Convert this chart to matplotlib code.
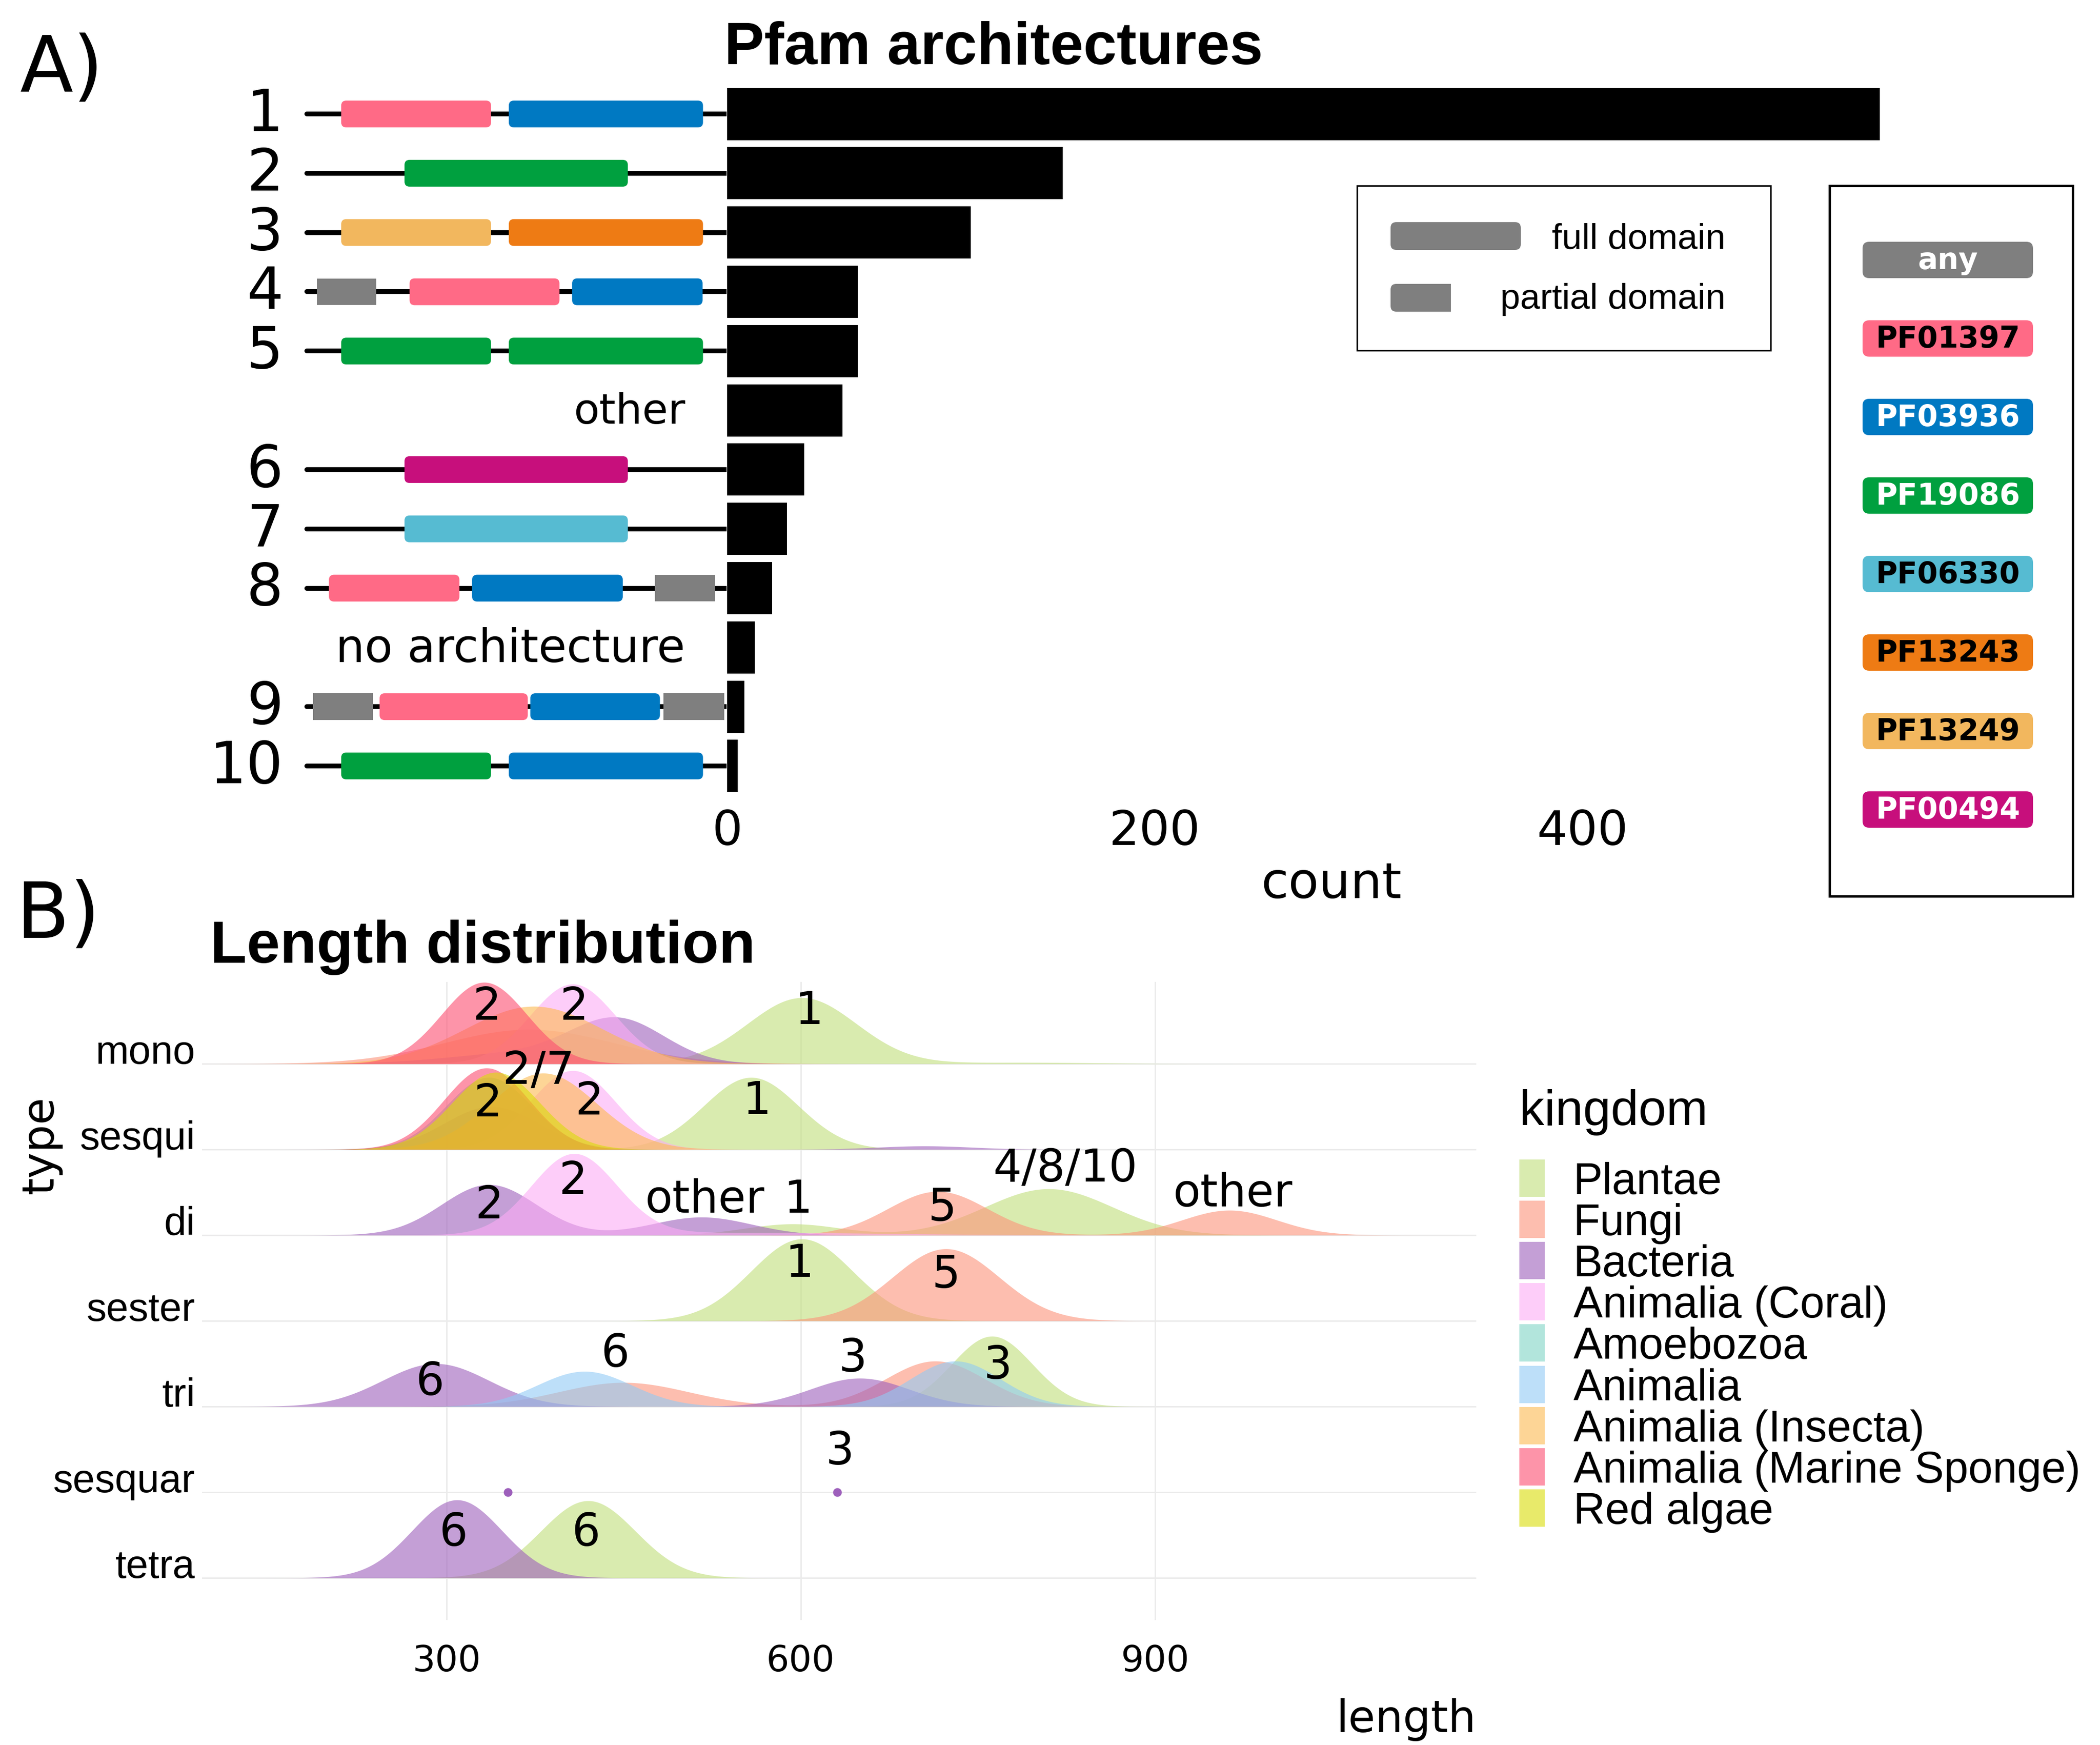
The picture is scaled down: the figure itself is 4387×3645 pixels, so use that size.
import numpy as np
import matplotlib
matplotlib.use("Agg")
import matplotlib.pyplot as plt
from matplotlib.patches import FancyBboxPatch, Rectangle

W, H = 4387, 3645
DPI = 300
SANS = "Liberation Sans"

# ---------------- panel A data ----------------
arch_labels = ["1", "2", "3", "4", "5", "other", "6", "7", "8", "no architecture", "9", "10"]
arch_counts = [539, 157, 114, 61, 61, 54, 36, 28, 21, 13, 8, 5]

pfam_ids = ["any", "PF01397", "PF03936", "PF19086", "PF06330", "PF13243", "PF13249", "PF00494"]
pfam_colors = ["#7F7F7F", "#FF6A86", "#0079C2", "#00A03F", "#56BBD2", "#EE7B14", "#F2B75E", "#C70F7C"]
pfam_text = ["white", "black", "white", "white", "black", "black", "black", "white"]

# domains drawn on the protein track (track units 0-100)
dom_arch = ["1", "1", "2", "3", "3", "4", "4", "4", "5", "5", "6", "7",
            "8", "8", "8", "9", "9", "9", "9", "10", "10"]
dom_pfam = ["PF01397", "PF03936", "PF19086", "PF13249", "PF13243", "any", "PF01397", "PF03936",
            "PF19086", "PF19086", "PF00494", "PF06330", "PF01397", "PF03936", "any",
            "any", "PF01397", "PF03936", "any", "PF19086", "PF03936"]
dom_start = [8.7, 48.4, 23.7, 8.7, 48.4, 2.9, 24.9, 63.4, 8.7, 48.4, 23.7, 23.7,
             5.8, 39.7, 83.0, 2.0, 17.8, 53.5, 85.0, 8.7, 48.4]
dom_end = [44.2, 94.4, 76.6, 44.2, 94.4, 17.0, 60.4, 94.3, 44.2, 94.4, 76.6, 76.6,
           36.7, 75.4, 97.3, 16.2, 52.9, 84.2, 99.4, 44.2, 94.4]
dom_partial = [False, False, False, False, False, True, False, False, False, False, False, False,
               False, False, True, True, False, False, True, False, False]

# ---------------- panel B data ----------------
type_order = ["mono", "sesqui", "di", "sester", "tri", "sesquar", "tetra"]
kingdoms = ["Plantae", "Fungi", "Bacteria", "Animalia (Coral)", "Amoebozoa", "Animalia",
            "Animalia (Insecta)", "Animalia (Marine Sponge)", "Red algae"]
kingdom_colors = ["#C0DE7A", "#FD947B", "#9D5FBB", "#FCACF5", "#80D4C6", "#91CBF5",
                  "#FDB950", "#FD4D70", "#DADC07"]

# density bumps: peak length, spread, peak height (in rows)
ridge_type = ["mono", "mono", "mono", "mono", "mono", "mono", "mono", "mono",
              "sesqui", "sesqui", "sesqui", "sesqui", "sesqui", "sesqui", "sesqui", "sesqui",
              "di", "di", "di", "di", "di", "di", "di", "di",
              "sester", "sester",
              "tri", "tri", "tri", "tri", "tri", "tri", "tri",
              "tetra", "tetra"]
ridge_kingdom = ["Plantae", "Plantae", "Fungi", "Bacteria", "Bacteria", "Animalia (Coral)",
                 "Animalia (Insecta)", "Animalia (Marine Sponge)",
                 "Plantae", "Bacteria", "Bacteria", "Animalia (Coral)", "Amoebozoa",
                 "Animalia (Insecta)", "Animalia (Marine Sponge)", "Red algae",
                 "Plantae", "Plantae", "Fungi", "Fungi", "Bacteria", "Bacteria",
                 "Animalia (Coral)", "Animalia (Coral)",
                 "Plantae", "Fungi",
                 "Plantae", "Fungi", "Fungi", "Bacteria", "Bacteria", "Animalia", "Animalia",
                 "Bacteria", "Plantae"]
ridge_mu = [601, 790, 370, 445, 360, 407, 374, 332,
            558, 338, 705, 407, 336, 382, 334, 342,
            593, 810, 716, 963, 336, 516, 408, 560,
            601, 723,
            762, 450, 714, 291, 650, 417, 731,
            309, 420]
ridge_sd = [46, 60, 72, 40, 60, 36, 58, 36,
            40, 40, 40, 36, 36, 45, 36, 37,
            40, 54, 42, 40, 40, 42, 36, 110,
            43, 45,
            34, 55, 42, 45, 42, 40, 38,
            38, 40]
ridge_h = [0.77, 0.015, 0.40, 0.50, 0.12, 0.93, 0.67, 0.95,
           0.84, 0.50, 0.04, 0.92, 0.84, 0.89, 0.95, 0.90,
           0.13, 0.54, 0.51, 0.29, 0.59, 0.21, 0.94, 0.03,
           0.955, 0.84,
           0.82, 0.28, 0.53, 0.50, 0.33, 0.41, 0.53,
           0.91, 0.90]

sesquar_points = [352, 631]

lab_type = ["mono", "mono", "mono", "sesqui", "sesqui", "sesqui", "sesqui",
            "di", "di", "di", "di", "di", "di", "di", "sester", "sester",
            "tri", "tri", "tri", "tri", "sesquar", "tetra", "tetra"]
lab_text = ["2", "2", "1", "2/7", "2", "2", "1",
            "2", "2", "other", "1", "5", "4/8/10", "other", "1", "5",
            "6", "6", "3", "3", "3", "6", "6"]
lab_x = [334, 408, 607, 378, 335, 421, 563,
         336, 407, 519, 598, 720, 824, 966, 599, 723,
         286, 443, 644, 767, 633, 306, 418]
lab_h = [0.66, 0.66, 0.61, 0.91, 0.53, 0.55, 0.56,
         0.34, 0.625, 0.41, 0.41, 0.31, 0.77, 0.48, 0.66, 0.53,
         0.28, 0.61, 0.55, 0.47, 0.47, 0.52, 0.52]


def box(x0, y0, x1, y1):
    return [x0 / W, 1 - y1 / H, (x1 - x0) / W, (y1 - y0) / H]


fig = plt.figure(figsize=(W / DPI, H / DPI), dpi=DPI)

# ---------------- A) architectures ----------------
n = len(arch_labels)
rows = np.arange(n)
ylim_a = (11.55, -0.55)

ax_tr = fig.add_axes(box(636, 170, 1518, 1668))
ax_tr.set_xlim(0, 100)
ax_tr.set_ylim(*ylim_a)
ax_tr.axis("off")
mut = (1 / 123.8) / (100 / 882)
for i, lab in enumerate(arch_labels):
    idx = [j for j in range(len(dom_arch)) if dom_arch[j] == lab]
    if not idx:
        ax_tr.text(90.2, i + 0.03, lab, ha="right", va="center", fontsize=21 if lab == "other" else 23)
        continue
    ax_tr.text(-5.0, i + 0.02, lab, ha="right", va="center", fontsize=29, clip_on=False)
    ax_tr.plot([0.6, 100], [i, i], color="black", lw=2.4, solid_capstyle="round", zorder=1)
    for j in idx:
        col = pfam_colors[pfam_ids.index(dom_pfam[j])]
        s, e = dom_start[j], dom_end[j]
        if dom_partial[j]:
            ax_tr.add_patch(Rectangle((s, i - 0.226), e - s, 0.452, fc=col, ec="none", zorder=2))
        else:
            ax_tr.add_patch(FancyBboxPatch((s, i - 0.226), e - s, 0.452,
                                           boxstyle="round,pad=0,rounding_size=1.2",
                                           mutation_aspect=mut, fc=col, ec="none", zorder=2))

ax_bar = fig.add_axes(box(1519, 170, 4043, 1668))
ax_bar.barh(rows, arch_counts, height=0.88, color="black")
ax_bar.set_xlim(0, 565)
ax_bar.set_ylim(*ylim_a)
ax_bar.set_xticks([0, 200, 400])
ax_bar.set_yticks([])
ax_bar.tick_params(axis="x", length=0, labelsize=24, pad=5)
for sp in ax_bar.spines.values():
    sp.set_visible(False)
ax_bar.patch.set_alpha(0)

fig.text(42 / W, 1 - 190 / H, "A)", fontsize=39, va="baseline", ha="left")
fig.text(1513 / W, 1 - 134 / H, "Pfam architectures", fontsize=30, fontweight="bold",
         family=SANS, va="baseline", ha="left")
fig.text(2781 / W, 1 - 1876 / H, "count", fontsize=25, va="baseline", ha="center")

# ---------------- B) length distribution ----------------
ax_r = fig.add_axes(box(422, 2051, 3084, 3384))
ax_r.set_xlim(93, 1172)
ax_r.set_ylim(0.508, 7.955)
ax_r.set_xticks([300, 600, 900])
ax_r.set_yticks(np.arange(len(type_order), 0, -1))
ax_r.set_yticklabels(type_order, family=SANS, fontsize=20, va="baseline")
ax_r.tick_params(axis="y", length=0, pad=3.4)
ax_r.tick_params(axis="x", length=0, labelsize=18, pad=12)
ax_r.grid(True, color="#EBEBEB", lw=0.7)
ax_r.set_axisbelow(True)
for sp in ax_r.spines.values():
    sp.set_visible(False)

xs = np.linspace(93, 1172, 900)
for t_i, t in enumerate(type_order):
    y0 = len(type_order) - t_i
    for k_i, k in enumerate(kingdoms):
        idx = [j for j in range(len(ridge_type)) if ridge_type[j] == t and ridge_kingdom[j] == k]
        if not idx:
            continue
        dens = np.zeros_like(xs)
        for j in idx:
            dens += ridge_h[j] * np.exp(-0.5 * ((xs - ridge_mu[j]) / ridge_sd[j]) ** 2)
        ax_r.fill_between(xs, y0, y0 + dens, color=kingdom_colors[k_i], alpha=0.6, lw=0,
                          zorder=2 + t_i * 0.1)

y_sesquar = len(type_order) - type_order.index("sesquar")
ax_r.scatter(sesquar_points, [y_sesquar] * len(sesquar_points), s=19,
             color=kingdom_colors[kingdoms.index("Bacteria")], lw=0, zorder=4)

for t, txt, x, h in zip(lab_type, lab_text, lab_x, lab_h):
    y0 = len(type_order) - type_order.index(t)
    ax_r.text(x, y0 + h, txt, ha="center", va="center", fontsize=22.5, zorder=6)

fig.text(34 / W, 1 - 1959 / H, "B)", fontsize=39, va="baseline", ha="left")
fig.text(439 / W, 1 - 2011 / H, "Length distribution", fontsize=30, fontweight="bold",
         family=SANS, va="baseline", ha="left")
fig.text(3084 / W, 1 - 3618 / H, "length", fontsize=22, va="baseline", ha="right")
fig.text(84 / W, 1 - 2392 / H, "type", fontsize=22, va="center", ha="center", rotation=90)

# ---------------- legends (pixel overlay) ----------------
ov = fig.add_axes([0, 0, 1, 1], zorder=10)
ov.set_xlim(0, W)
ov.set_ylim(H, 0)
ov.axis("off")

ov.add_patch(Rectangle((2835, 388), 864, 344, fill=False, lw=0.8, ec="black"))
ov.add_patch(FancyBboxPatch((2905, 464), 272, 58, boxstyle="round,pad=0,rounding_size=12",
                            fc="#7F7F7F", ec="none"))
ov.add_patch(FancyBboxPatch((2905, 593), 126, 58, boxstyle="round,pad=0,rounding_size=12",
                            fc="#7F7F7F", ec="none"))
ov.add_patch(Rectangle((2968, 593), 63, 58, fc="#7F7F7F", ec="none"))
ov.text(3605, 500, "full domain", family=SANS, fontsize=18, ha="right", va="center")
ov.text(3605, 625, "partial domain", family=SANS, fontsize=18, ha="right", va="center")

ov.add_patch(Rectangle((3822, 388), 508, 1484, fill=False, lw=1.2, ec="black"))
for i, (pid, col, tc) in enumerate(zip(pfam_ids, pfam_colors, pfam_text)):
    cy = 543 + i * 164
    ov.add_patch(FancyBboxPatch((3891, cy - 38), 356, 76, boxstyle="round,pad=0,rounding_size=14",
                                fc=col, ec="none"))
    ov.text(4069, cy + 2, pid, color=tc, fontsize=14.8, fontweight="bold", ha="center", va="center")

ov.text(3174, 2350, "kingdom", family=SANS, fontsize=25, ha="left", va="baseline")
for i, (k, col) in enumerate(zip(kingdoms, kingdom_colors)):
    cy = 2461 + i * 86.1
    ov.add_patch(Rectangle((3174, cy - 39), 53, 78, fc=col, alpha=0.6, ec="none"))
    ov.text(3287, cy + 9, k, family=SANS, fontsize=22, ha="left", va="center")

fig.savefig("out.png", dpi=DPI)
